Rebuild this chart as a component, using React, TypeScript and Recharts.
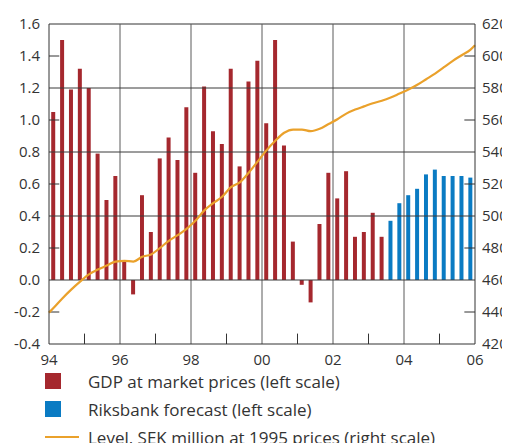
import React from "react";
import {
  ComposedChart,
  Bar,
  Line,
  XAxis,
  YAxis,
  ReferenceLine,
  Cell,
} from "recharts";

// quarterly GDP growth, 1994Q1 - 2003Q2 (outcome)
const growthActual = [
  1.05, 1.5, 1.19, 1.32, 1.2, 0.79, 0.5, 0.65,
  0.12, -0.09, 0.53, 0.3, 0.76, 0.89, 0.75, 1.08,
  0.67, 1.21, 0.93, 0.85, 1.32, 0.71, 1.24, 1.37,
  0.98, 1.5, 0.84, 0.24, -0.03, -0.14, 0.35, 0.67,
  0.51, 0.68, 0.27, 0.3, 0.42, 0.27,
];

// 2003Q3 - 2005Q4 (Riksbank forecast)
const growthForecast = [0.37, 0.48, 0.53, 0.57, 0.66, 0.69, 0.65, 0.65, 0.65, 0.64];

// GDP level, SEK million at 1995 prices, at each quarter centre
const levelValues = [
  442.5, 448.5, 454, 459, 463.5, 466.5, 469, 471.5,
  472, 471.5, 474.5, 476, 480, 484.5, 488, 492,
  497, 503.5, 508, 512, 518, 521, 527, 534,
  541, 547, 552, 554, 554, 553, 554.5, 557.5,
  560.5, 564, 566.5, 568.5, 570.5, 572, 574, 576.5,
  579, 582, 585.5, 589, 593, 597, 600.5, 604,
];
const levelStart = 439.6;
const levelEnd = 606.7;

const startYear = 1994;
const endYear = 2006;
const yearTicks = [1994, 1996, 1998, 2000, 2002, 2004, 2006];
const oddYears = [1995, 1997, 1999, 2001, 2003, 2005];
const leftTicks = [-0.4, -0.2, 0, 0.2, 0.4, 0.6, 0.8, 1.0, 1.2, 1.4, 1.6];
const rightTicks = [420, 440, 460, 480, 500, 520, 540, 560, 580, 600, 620];
const gridLeft = [1.2, 0.8, 0.4, 0];
const minorLeft = [1.4, 1.0, 0.6, 0.2, -0.2];
const gridYears = [1996, 1998, 2000, 2002, 2004];

const RED = "#A5282E";
const BLUE = "#0A7BC3";
const ORANGE = "#EAA12B";
const INK = "#333333";
const FONT = "'Open Sans', sans-serif";

const allGrowth = [...growthActual, ...growthForecast];
const data = [
  { t: startYear, level: levelStart },
  ...allGrowth.map((g, i) => ({
    t: startYear + (i + 0.5) / 4,
    growth: g,
    forecast: i >= growthActual.length,
    level: levelValues[i],
  })),
  { t: endYear, level: levelEnd },
];

export default function App() {
  const tickStyle = { fill: INK, fontSize: 15, fontFamily: FONT };
  return (
    <div style={{ width: 502, fontFamily: FONT, color: INK }}>
      <style>{`svg.recharts-surface { overflow: visible; }`}</style>
      <ComposedChart
        width={502}
        height={368}
        data={data}
        margin={{ top: 16, right: 0, left: 0, bottom: 0 }}
      >
        <XAxis
          dataKey="t"
          type="number"
          domain={[startYear, endYear]}
          ticks={yearTicks}
          tickFormatter={(v: number) => String(v % 100).padStart(2, "0")}
          tickLine={false}
          tickSize={0}
          tickMargin={10}
          height={32}
          axisLine={{ stroke: INK }}
          tick={tickStyle}
          interval={0}
        />
        <YAxis
          yAxisId="l"
          domain={[-0.4, 1.6]}
          ticks={leftTicks}
          tickFormatter={(v: number) => v.toFixed(1)}
          tickLine={false}
          tickSize={0}
          tickMargin={9}
          width={41}
          axisLine={{ stroke: INK }}
          tick={tickStyle}
          interval={0}
        />
        <YAxis
          yAxisId="r"
          orientation="right"
          domain={[420, 620]}
          ticks={rightTicks}
          tickLine={false}
          tickSize={0}
          tickMargin={7}
          width={35}
          axisLine={{ stroke: INK }}
          tick={{ ...tickStyle, textAnchor: "start" }}
          interval={0}
        />
        <ReferenceLine yAxisId="l" y={1.6} stroke={INK} />
        {gridYears.map((yr) => (
          <ReferenceLine key={`gx-${yr}`} yAxisId="l" x={yr} stroke="#5a5a5a" />
        ))}
        {gridLeft.map((v) => (
          <ReferenceLine key={`gy-${v}`} yAxisId="l" y={v} stroke="#3a3a3a" />
        ))}
        {minorLeft.map((v) => (
          <ReferenceLine
            key={`ml-${v}`}
            yAxisId="l"
            segment={[{ x: startYear, y: v }, { x: startYear + 0.29, y: v }]}
            stroke={INK}
          />
        ))}
        {minorLeft.map((v) => (
          <ReferenceLine
            key={`mr-${v}`}
            yAxisId="l"
            segment={[{ x: endYear - 0.3, y: v }, { x: endYear, y: v }]}
            stroke={INK}
          />
        ))}
        {oddYears.map((yr) => (
          <ReferenceLine
            key={`mb-${yr}`}
            yAxisId="l"
            segment={[{ x: yr, y: -0.4 }, { x: yr, y: -0.335 }]}
            stroke={INK}
          />
        ))}
        <Bar yAxisId="l" dataKey="growth" barSize={4} isAnimationActive={false}>
          {data.map((d: any, i) => (
            <Cell key={`c-${i}`} fill={d.forecast ? BLUE : RED} />
          ))}
        </Bar>
        <Line
          yAxisId="r"
          dataKey="level"
          stroke={ORANGE}
          strokeWidth={2.2}
          dot={false}
          type="monotone"
          isAnimationActive={false}
        />
      </ComposedChart>
      <div style={{ paddingLeft: 37, fontSize: 17, marginTop: -9 }}>
        {[
          { label: "GDP at market prices (left scale)", kind: "box", color: RED },
          { label: "Riksbank forecast (left scale)", kind: "box", color: BLUE },
          { label: "Level, SEK million at 1995 prices (right scale)", kind: "line", color: ORANGE },
        ].map((item) => (
          <div key={item.label} style={{ display: "flex", alignItems: "center", height: 28 }}>
            <div style={{ width: 43, display: "flex", alignItems: "center" }}>
              {item.kind === "box" ? (
                <div style={{ width: 16, height: 16, background: item.color }} />
              ) : (
                <div style={{ width: 34, height: 2, background: item.color }} />
              )}
            </div>
            <span style={{ whiteSpace: "nowrap" }}>{item.label}</span>
          </div>
        ))}
      </div>
    </div>
  );
}
